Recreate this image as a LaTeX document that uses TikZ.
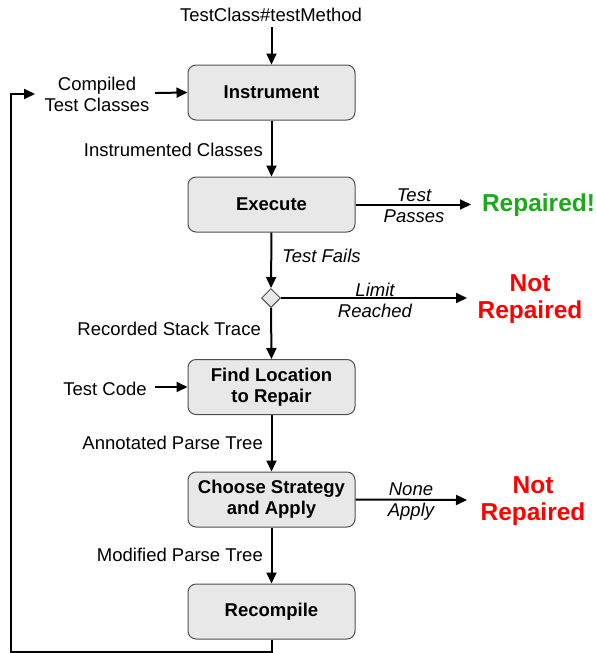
\documentclass[tikz,border=0pt]{standalone}
\usepackage{fontspec}
\setmainfont{Liberation Sans}
\usetikzlibrary{arrows.meta,shapes.geometric}
\definecolor{boxfill}{RGB}{232,232,232}
\definecolor{boxdraw}{RGB}{80,80,80}
\definecolor{okgreen}{RGB}{26,170,26}
\begin{document}
\begin{tikzpicture}[x=1pt,y=-1pt,
  stepbox/.style={draw=boxdraw,line width=1pt,fill=boxfill,rounded corners=8pt,
    minimum width=167pt,minimum height=55pt,inner sep=0pt,align=center,
    font=\fontsize{18.5}{21}\selectfont\bfseries},
  lbl/.style={inner sep=0pt,align=center,yshift=-1.5pt,font=\fontsize{18.5}{21}\selectfont},
  ilbl/.style={lbl,font=\fontsize{18.5}{21}\selectfont\itshape},
  res/.style={inner sep=0pt,align=center,yshift=-1.5pt,font=\fontsize{24.5}{27}\selectfont\bfseries},
  arr/.style={line width=2pt,-{Triangle[length=11pt,width=10pt]}},
  ln/.style={line width=2pt}]
\useasboundingbox (0,0) rectangle (596,653);
% boxes
\node[stepbox] (ins) at (271.5,92.5) {Instrument};
\node[stepbox] (exe) at (271.5,204.5) {Execute};
\node[draw=boxdraw,line width=1pt,fill=boxfill,diamond,minimum width=19pt,minimum height=19pt,inner sep=0pt] (dia) at (271,298) {};
\node[stepbox] (fin) at (271.5,387) {Find Location\\to Repair};
\node[stepbox] (cho) at (271.5,499.5) {Choose Strategy\\and Apply};
\node[stepbox] (rec) at (271.5,611.5) {Recompile};
% inputs
\node[lbl] (tc) at (271,13) {TestClass\#testMethod};
\node[lbl] (ctc) at (97,93) {Compiled\\Test Classes};
\node[lbl] (tcode) at (105,387) {Test Code};
% results
\node[res,text=okgreen] (rep) at (538.5,204) {Repaired!};
\node[res,text=red] (nr1) at (530,298) {Not\\Repaired};
\node[res,text=red] (nr2) at (533,500) {Not\\Repaired};
% edge labels
\node[lbl,anchor=east] (l1) at (263,148) {Instrumented Classes};
\node[lbl,anchor=east] (l2) at (261,327) {Recorded Stack Trace};
\node[lbl,anchor=east] (l3) at (263,441) {Annotated Parse Tree};
\node[lbl,anchor=east] (l4) at (263,553) {Modified Parse Tree};
\node[ilbl,anchor=west] (l5) at (282,254) {Test Fails};
\node[ilbl] (l6) at (414,204.5) {Test\\Passes};
\node[ilbl] (l7) at (375,298.5) {Limit\\Reached};
\node[ilbl] (l8) at (411,500.5) {None\\Apply};
% connectors
\coordinate (tcend) at (271.5,27);
\coordinate (ctcend) at (155,93);
\coordinate (tcodeend) at (155,387);
\draw[arr] (tcend) -- (ins.north);
\draw[arr] (ctcend) -- (ins.west);
\draw[arr] (tcodeend) -- (fin.west);
\draw[arr] (ins) -- (exe);
\draw[arr] (exe.south) -- (dia.north);
\draw[arr] (dia.south) -- (fin.north);
\draw[arr] (fin) -- (cho);
\draw[arr] (cho) -- (rec);
\coordinate (e1) at (471,204.5);
\coordinate (e2) at (467,298);
\coordinate (e3) at (467,500);
\draw[arr] (exe.east) -- (e1);
\draw[arr] (dia.east) -- (e2);
\draw[arr] (cho.east) -- (e3);
\coordinate (lc) at (11,652);
\coordinate (loopend) at (35,94);
\draw[arr] (rec.south) |- (lc) |- (loopend);
\end{tikzpicture}
\end{document}
